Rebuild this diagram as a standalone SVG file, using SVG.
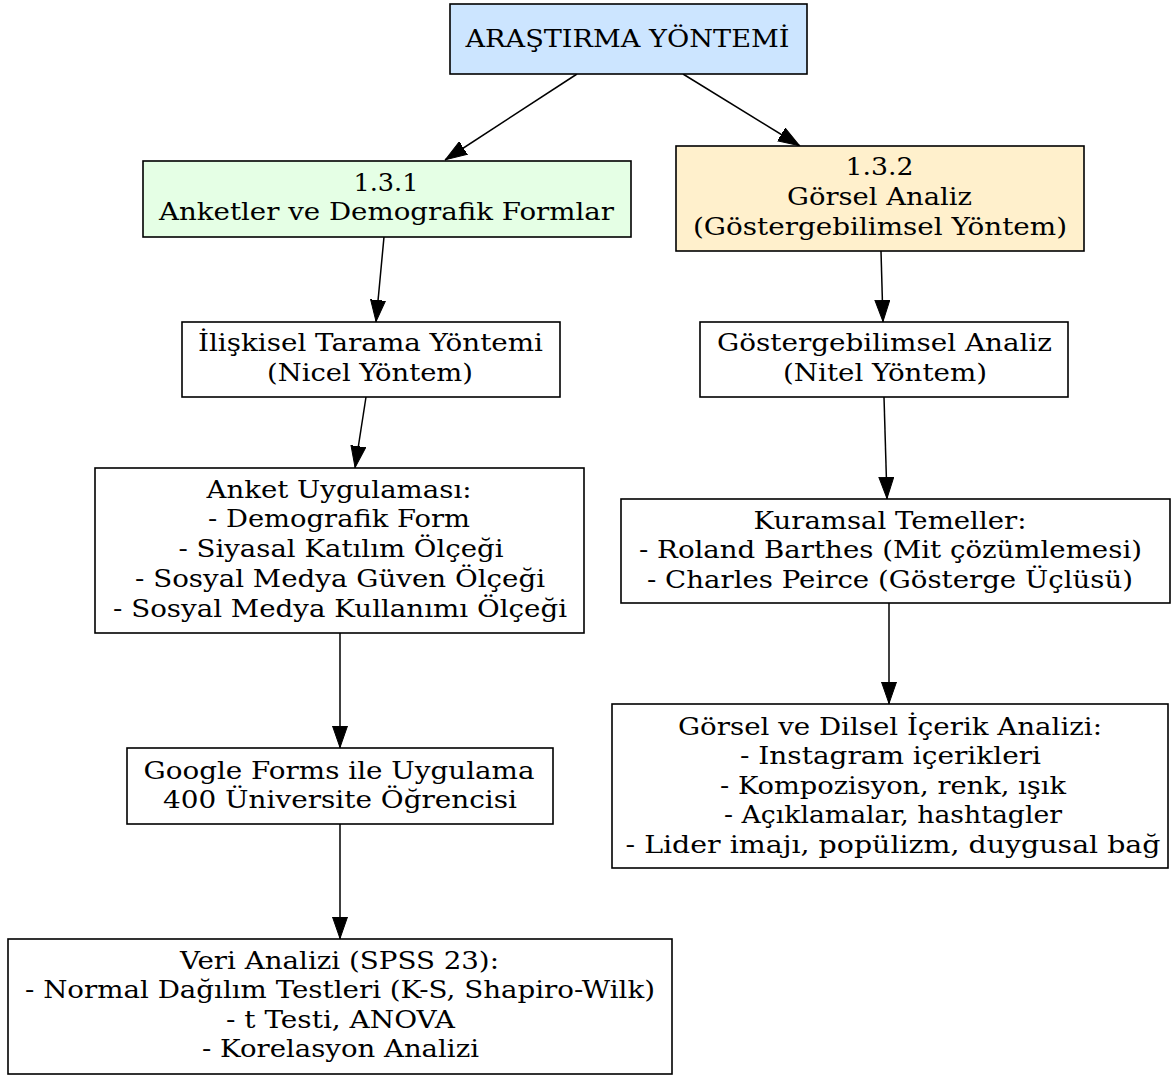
<svg xmlns="http://www.w3.org/2000/svg" width="1171" height="1077" viewBox="0 0 1171 1077">
<style>
.box{stroke:#000;stroke-width:1.6}
.w{fill:#fff}
text{font-family:"DejaVu Serif",serif;font-size:25px;fill:#000;text-anchor:middle}
.e{stroke:#000;stroke-width:1.5;fill:none}
</style>
<defs>
<marker id="ah" markerWidth="22" markerHeight="16" refX="22" refY="8" orient="auto" markerUnits="userSpaceOnUse">
<path d="M0,0.5 L21.5,8 L0,15.5 Z" fill="#000" stroke="#000" stroke-width="1"/>
</marker>
</defs>
<rect width="1171" height="1077" fill="#fff"/>
<g id="connectors">
<line class="e" x1="577" y1="74" x2="445" y2="160" marker-end="url(#ah)"/>
<line class="e" x1="683" y1="74" x2="800" y2="146" marker-end="url(#ah)"/>
<line class="e" x1="384" y1="237" x2="376" y2="322" marker-end="url(#ah)"/>
<line class="e" x1="881" y1="251" x2="883" y2="322" marker-end="url(#ah)"/>
<line class="e" x1="366" y1="397" x2="355" y2="468" marker-end="url(#ah)"/>
<line class="e" x1="340" y1="633" x2="340" y2="748" marker-end="url(#ah)"/>
<line class="e" x1="884" y1="397" x2="887" y2="499" marker-end="url(#ah)"/>
<line class="e" x1="889" y1="603" x2="889" y2="704" marker-end="url(#ah)"/>
<line class="e" x1="340" y1="824" x2="340" y2="939" marker-end="url(#ah)"/>
</g>
<g id="n_root">
<rect class="box" x="450" y="4" width="357" height="70" fill="#cce5ff"/>
<text x="627.5" y="47" textLength="324" lengthAdjust="spacingAndGlyphs">ARAŞTIRMA YÖNTEMİ</text>
</g>
<g id="n_131">
<rect class="box" x="143" y="161" width="488" height="76" fill="#e5ffe5"/>
<text x="386" y="191" textLength="65" lengthAdjust="spacingAndGlyphs">1.3.1</text>
<text x="386.5" y="220" textLength="455" lengthAdjust="spacingAndGlyphs">Anketler ve Demografik Formlar</text>
</g>
<g id="n_132">
<rect class="box" x="676" y="146" width="408" height="105" fill="#fff0cc"/>
<text x="879.5" y="175" textLength="68" lengthAdjust="spacingAndGlyphs">1.3.2</text>
<text x="879.5" y="205" textLength="185" lengthAdjust="spacingAndGlyphs">Görsel Analiz</text>
<text x="880" y="235" textLength="374" lengthAdjust="spacingAndGlyphs">(Göstergebilimsel Yöntem)</text>
</g>
<g id="n_iliskisel">
<rect class="box w" x="182" y="322" width="378" height="75"/>
<text x="370.5" y="351" textLength="345" lengthAdjust="spacingAndGlyphs">İlişkisel Tarama Yöntemi</text>
<text x="370" y="381" textLength="206" lengthAdjust="spacingAndGlyphs">(Nicel Yöntem)</text>
</g>
<g id="n_gosterge">
<rect class="box w" x="700" y="322" width="368" height="75"/>
<text x="884.5" y="351" textLength="335" lengthAdjust="spacingAndGlyphs">Göstergebilimsel Analiz</text>
<text x="885" y="381" textLength="204" lengthAdjust="spacingAndGlyphs">(Nitel Yöntem)</text>
</g>
<g id="n_anket">
<rect class="box w" x="95" y="468" width="489" height="165"/>
<text x="339" y="498" textLength="265" lengthAdjust="spacingAndGlyphs">Anket Uygulaması:</text>
<text x="339" y="527" textLength="262" lengthAdjust="spacingAndGlyphs">- Demografik Form</text>
<text x="341" y="557" textLength="325" lengthAdjust="spacingAndGlyphs">- Siyasal Katılım Ölçeği</text>
<text x="340" y="587" textLength="410" lengthAdjust="spacingAndGlyphs">- Sosyal Medya Güven Ölçeği</text>
<text x="340" y="617" textLength="454" lengthAdjust="spacingAndGlyphs">- Sosyal Medya Kullanımı Ölçeği</text>
</g>
<g id="n_kuramsal">
<rect class="box w" x="621" y="499" width="549" height="104"/>
<text x="890" y="529" textLength="273" lengthAdjust="spacingAndGlyphs">Kuramsal Temeller:</text>
<text x="890.5" y="558" textLength="503" lengthAdjust="spacingAndGlyphs">- Roland Barthes (Mit çözümlemesi)</text>
<text x="890" y="588" textLength="486" lengthAdjust="spacingAndGlyphs">- Charles Peirce (Gösterge Üçlüsü)</text>
</g>
<g id="n_google">
<rect class="box w" x="127" y="748" width="426" height="76"/>
<text x="339" y="779" textLength="391" lengthAdjust="spacingAndGlyphs">Google Forms ile Uygulama</text>
<text x="340" y="808" textLength="354" lengthAdjust="spacingAndGlyphs">400 Üniversite Öğrencisi</text>
</g>
<g id="n_gorsel">
<rect class="box w" x="612" y="704" width="556" height="164"/>
<text x="890" y="735" textLength="424" lengthAdjust="spacingAndGlyphs">Görsel ve Dilsel İçerik Analizi:</text>
<text x="890.5" y="764" textLength="301" lengthAdjust="spacingAndGlyphs">- Instagram içerikleri</text>
<text x="893" y="794" textLength="346" lengthAdjust="spacingAndGlyphs">- Kompozisyon, renk, ışık</text>
<text x="893" y="823" textLength="338" lengthAdjust="spacingAndGlyphs">- Açıklamalar, hashtagler</text>
<text x="893" y="853" textLength="535" lengthAdjust="spacingAndGlyphs">- Lider imajı, popülizm, duygusal bağ</text>
</g>
<g id="n_veri">
<rect class="box w" x="8" y="939" width="664" height="135"/>
<text x="339.5" y="969" textLength="319" lengthAdjust="spacingAndGlyphs">Veri Analizi (SPSS 23):</text>
<text x="340" y="998" textLength="630" lengthAdjust="spacingAndGlyphs">- Normal Dağılım Testleri (K-S, Shapiro-Wilk)</text>
<text x="340.5" y="1028" textLength="229" lengthAdjust="spacingAndGlyphs">- t Testi, ANOVA</text>
<text x="340.5" y="1057" textLength="277" lengthAdjust="spacingAndGlyphs">- Korelasyon Analizi</text>
</g>
</svg>
